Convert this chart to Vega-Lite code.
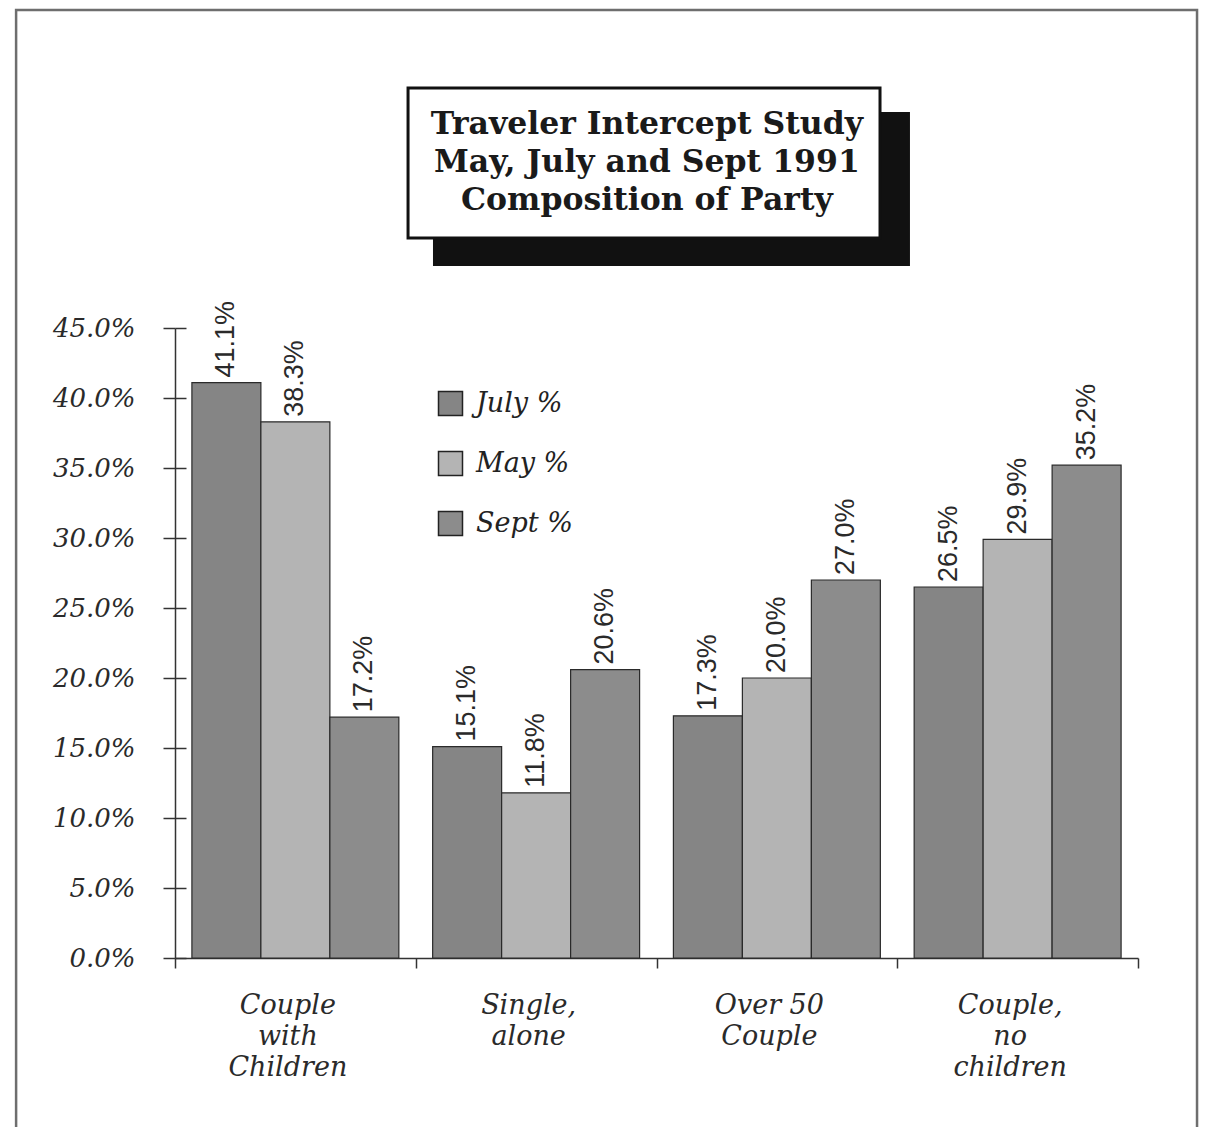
{
  "$schema": "https://vega.github.io/schema/vega-lite/v6.json",
  "width": 963,
  "height": 630,
  "autosize": {"type": "none"},
  "padding": {"left": 175, "top": 328, "right": 67, "bottom": 169},
  "background": "white",
  "config": {"view": {"stroke": null}},
  "layer": [
    {
      "data": {"values": [{}]},
      "layer": [
        {
          "mark": {"type": "rect", "fill": null, "stroke": "#6e6e6e", "strokeWidth": 2.5},
          "encoding": {
            "x": {"datum": -16.5, "type": "quantitative", "scale": {"domain": [0, 100], "nice": false, "zero": false}, "axis": null},
            "x2": {"datum": 106.13},
            "y": {"datum": 0.6771, "type": "quantitative", "scale": {"domain": [0, 0.45], "nice": false}},
            "y2": {"datum": -0.13}
          }
        },
        {
          "mark": {"type": "rect", "fill": "#111111", "stroke": null},
          "encoding": {
            "x": {"datum": 26.79, "type": "quantitative", "scale": {"domain": [0, 100], "nice": false, "zero": false}, "axis": null},
            "x2": {"datum": 76.32},
            "y": {"datum": 0.6043, "type": "quantitative", "scale": {"domain": [0, 0.45], "nice": false}},
            "y2": {"datum": 0.4943}
          }
        },
        {
          "mark": {"type": "rect", "fill": "white", "stroke": "#111111", "strokeWidth": 3},
          "encoding": {
            "x": {"datum": 24.2, "type": "quantitative", "scale": {"domain": [0, 100], "nice": false, "zero": false}, "axis": null},
            "x2": {"datum": 73.21},
            "y": {"datum": 0.6214, "type": "quantitative", "scale": {"domain": [0, 0.45], "nice": false}},
            "y2": {"datum": 0.5143}
          }
        },
        {
          "mark": {
            "type": "text",
            "text": ["Traveler Intercept Study", "May, July and Sept 1991", "Composition of Party"],
            "font": "DejaVu Serif",
            "fontWeight": "bold",
            "fontSize": 31.5,
            "lineHeight": 38,
            "align": "center",
            "baseline": "alphabetic",
            "color": "#1a1a1a"
          },
          "encoding": {
            "x": {"datum": 49.0, "type": "quantitative", "scale": {"domain": [0, 100], "nice": false, "zero": false}, "axis": null},
            "y": {"datum": 0.5886, "type": "quantitative", "scale": {"domain": [0, 0.45], "nice": false}}
          }
        }
      ]
    },
    {
      "data": {
        "values": [
          {"party": "Couple with Children", "month": "July %", "value": 0.411},
          {"party": "Couple with Children", "month": "May %", "value": 0.383},
          {"party": "Couple with Children", "month": "Sept %", "value": 0.172},
          {"party": "Single, alone", "month": "July %", "value": 0.151},
          {"party": "Single, alone", "month": "May %", "value": 0.118},
          {"party": "Single, alone", "month": "Sept %", "value": 0.206},
          {"party": "Over\u00a050 Couple", "month": "July %", "value": 0.173},
          {"party": "Over\u00a050 Couple", "month": "May %", "value": 0.200},
          {"party": "Over\u00a050 Couple", "month": "Sept %", "value": 0.270},
          {"party": "Couple, no children", "month": "July %", "value": 0.265},
          {"party": "Couple, no children", "month": "May %", "value": 0.299},
          {"party": "Couple, no children", "month": "Sept %", "value": 0.352}
        ]
      },
      "encoding": {
        "x": {
          "field": "party",
          "type": "nominal",
          "sort": ["Couple with Children", "Single, alone", "Over\u00a050 Couple", "Couple, no children"],
          "scale": {"paddingInner": 0, "paddingOuter": 0},
          "axis": {
            "title": null,
            "labelAngle": 0,
            "labelExpr": "isValid(datum.value) ? split(datum.value, ' ') : ''",
            "tickBand": "extent",
            "tickSize": 10,
            "tickColor": "#333333",
            "tickWidth": 1.5,
            "domainColor": "#333333",
            "domainWidth": 1.5,
            "grid": true,
            "gridColor": "#333333",
            "gridWidth": 1.5,
            "gridDash": [4, 3000],
            "gridDashOffset": 1374,
            "labelFont": "DejaVu Serif",
            "labelFontStyle": "italic",
            "labelFontSize": 27,
            "labelLineHeight": 31,
            "labelBaseline": "top",
            "labelPadding": 24,
            "labelOffset": -8,
            "labelColor": "#2a2a2a"
          }
        },
        "xOffset": {
          "field": "month",
          "type": "nominal",
          "sort": ["July %", "May %", "Sept %"],
          "scale": {"paddingInner": 0, "paddingOuter": 0.245}
        },
        "y": {
          "field": "value",
          "type": "quantitative",
          "scale": {"domain": [0, 0.45], "nice": false},
          "axis": {
            "title": null,
            "values": [0, 0.05, 0.1, 0.15, 0.2, 0.25, 0.3, 0.35, 0.4, 0.45],
            "format": ".1%",
            "tickSize": 12,
            "tickColor": "#333333",
            "tickWidth": 1.5,
            "domainColor": "#333333",
            "domainWidth": 1.5,
            "grid": true,
            "gridColor": "#333333",
            "gridWidth": 1.5,
            "gridDash": [11, 3000],
            "labelFont": "DejaVu Serif",
            "labelFontStyle": "italic",
            "labelFontSize": 26,
            "labelPadding": 28,
            "labelColor": "#2a2a2a"
          }
        }
      },
      "layer": [
        {
          "mark": {"type": "bar", "stroke": "#2a2a2a", "strokeWidth": 1.2},
          "encoding": {
            "color": {
              "field": "month",
              "type": "nominal",
              "scale": {"domain": ["July %", "May %", "Sept %"], "range": ["#858585", "#b4b4b4", "#8c8c8c"]},
              "legend": {
                "title": null,
                "orient": "none",
                "legendX": 262,
                "legendY": 62,
                "padding": 0,
                "symbolType": "square",
                "symbolSize": 576,
                "symbolStrokeColor": "#222222",
                "symbolStrokeWidth": 1.5,
                "symbolOpacity": 1,
                "labelFont": "DejaVu Serif",
                "labelFontStyle": "italic",
                "labelFontSize": 27,
                "labelColor": "#222222",
                "labelOffset": 12,
                "rowPadding": 29
              }
            }
          }
        },
        {
          "mark": {
            "type": "text",
            "angle": 270,
            "align": "left",
            "baseline": "middle",
            "dx": 5,
            "font": "Liberation Sans",
            "fontSize": 27,
            "color": "#2a2a2a"
          },
          "encoding": {
            "text": {"field": "value", "type": "quantitative", "format": ".1%"}
          }
        }
      ]
    }
  ],
  "resolve": {"scale": {"x": "independent"}, "axis": {"x": "independent"}}
}
